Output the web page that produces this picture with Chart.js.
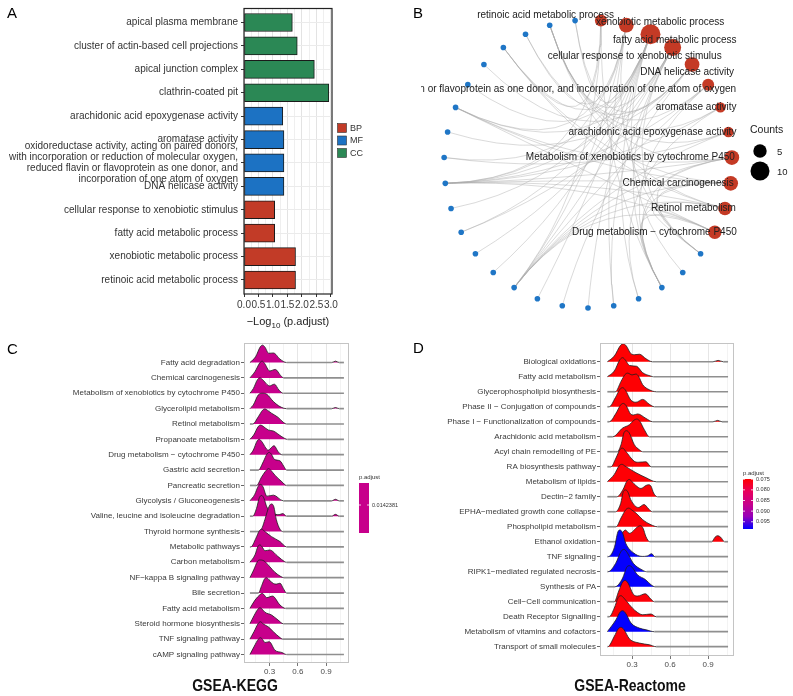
<!DOCTYPE html>
<html>
<head>
<meta charset="utf-8">
<script src="https://cdn.jsdelivr.net/npm/chart.js@4.4.0/dist/chart.umd.min.js"></script>
<style>
body{margin:0;background:#fff;}
#wrap{position:relative;width:793px;height:696px;overflow:hidden;background:#fff;font-family:"Liberation Sans",Arial,sans-serif;}
canvas{position:absolute;}
.lab{position:absolute;font-size:15px;line-height:15px;color:#000;}
.ttl{position:absolute;width:300px;text-align:center;font-weight:bold;font-size:16.5px;line-height:17px;color:#111;transform:scaleX(0.85);}
.xt{position:absolute;width:200px;text-align:center;font-size:11px;line-height:11px;color:#222;white-space:nowrap;}
.xt span{font-size:8px;position:relative;top:3px;}
</style>
</head>
<body>
<div id="wrap">
<canvas id="cA" width="400" height="335" style="left:0;top:0"></canvas>
<canvas id="cB" width="393" height="335" style="left:400px;top:0"></canvas>
<canvas id="cC" width="400" height="361" style="left:0;top:335px"></canvas>
<canvas id="cD" width="393" height="361" style="left:400px;top:335px"></canvas>
<div class="lab" style="left:7px;top:5px">A</div>
<div class="lab" style="left:413px;top:5px">B</div>
<div class="lab" style="left:7px;top:341px">C</div>
<div class="lab" style="left:413px;top:340px">D</div>
<div class="xt" style="left:188px;top:316px">&minus;Log<span>10</span> (p.adjust)</div>
<div class="ttl" style="left:85px;top:677px">GSEA-KEGG</div>
<div class="ttl" style="left:480px;top:677px">GSEA-Reactome</div>
</div>
<script>
// ---------- A: GO enrichment bars
const goTerms = [
  'apical plasma membrane',
  'cluster of actin-based cell projections',
  'apical junction complex',
  'clathrin-coated pit',
  'arachidonic acid epoxygenase activity',
  'aromatase activity',
  ['oxidoreductase activity, acting on paired donors,',
   'with incorporation or reduction of molecular oxygen,',
   'reduced flavin or flavoprotein as one donor, and',
   'incorporation of one atom of oxygen'],
  'DNA helicase activity',
  'cellular response to xenobiotic stimulus',
  'fatty acid metabolic process',
  'xenobiotic metabolic process',
  'retinoic acid metabolic process'
];
const goOntology = ['CC','CC','CC','CC','MF','MF','MF','MF','BP','BP','BP','BP'];
const goLogP = [1.67, 1.84, 2.43, 2.93, 1.34, 1.38, 1.38, 1.38, 1.06, 1.06, 1.78, 1.78];
const goGrid = [0, 0.25, 0.5, 0.75, 1, 1.25, 1.5, 1.75, 2, 2.25, 2.5, 2.75, 3];
const ontLegend = ['BP', 'MF', 'CC'];

// ---------- B: term-gene network
const netTerms = [
  'retinoic acid metabolic process',
  'xenobiotic metabolic process',
  'fatty acid metabolic process',
  'cellular response to xenobiotic stimulus',
  'DNA helicase activity',
  'oxidoreductase activity, acting on paired donors, with incorporation or reduction of molecular oxygen, reduced flavin or flavoprotein as one donor, and incorporation of one atom of oxygen',
  'aromatase activity',
  'arachidonic acid epoxygenase activity',
  'Metabolism of xenobiotics by cytochrome P450',
  'Chemical carcinogenesis',
  'Retinol metabolism',
  'Drug metabolism \u2212 cytochrome P450'
];
const netCounts = [4, 6, 11, 8, 6, 4, 3, 3, 6, 6, 5, 5];
const netGeneCount = 23;
const netLinks = [
  [2, 8, 13, 19],
  [0, 4, 8, 13, 16, 20],
  [1, 3, 5, 7, 9, 11, 12, 14, 17, 19, 22],
  [0, 2, 4, 8, 10, 13, 16, 21],
  [6, 11, 15, 18, 20, 22],
  [2, 8, 13, 21],
  [3, 13, 21],
  [8, 14, 21],
  [0, 2, 8, 13, 16, 21],
  [0, 2, 8, 13, 16, 19],
  [2, 8, 13, 19, 21],
  [0, 2, 8, 13, 16]
];
const countLegend = [5, 10];

// ---------- C: GSEA KEGG ridges  ([x, density] pairs, top row first)
const keggTerms = [
  'Fatty acid degradation','Chemical carcinogenesis','Metabolism of xenobiotics by cytochrome P450',
  'Glycerolipid metabolism','Retinol metabolism','Propanoate metabolism',
  'Drug metabolism \u2212 cytochrome P450','Gastric acid secretion','Pancreatic secretion',
  'Glycolysis / Gluconeogenesis','Valine, leucine and isoleucine degradation','Thyroid hormone synthesis',
  'Metabolic pathways','Carbon metabolism','NF\u2212kappa B signaling pathway','Bile secretion',
  'Fatty acid metabolism','Steroid hormone biosynthesis','TNF signaling pathway','cAMP signaling pathway'
];
const keggRidges = [
  [[0.09,0],[0.15,0.37],[0.20,1.02],[0.225,1.13],[0.25,1.0],[0.29,0.6],[0.34,0.62],[0.41,0.22],[0.48,0],[0.96,0],[1.0,0.09],[1.04,0]],
  [[0.09,0],[0.145,0.42],[0.195,0.98],[0.22,1.09],[0.245,0.95],[0.30,0.45],[0.36,0.55],[0.42,0.13],[0.45,0]],
  [[0.09,0],[0.126,0.3],[0.172,0.9],[0.197,1.0],[0.222,0.9],[0.30,0.48],[0.35,0.59],[0.40,0.2],[0.445,0]],
  [[0.09,0],[0.126,0.24],[0.18,0.9],[0.225,1.0],[0.27,0.93],[0.34,0.46],[0.41,0.13],[0.48,0],[0.96,0],[1.0,0.07],[1.04,0]],
  [[0.12,0],[0.18,0.48],[0.225,0.9],[0.25,0.98],[0.275,0.9],[0.32,0.7],[0.39,0.43],[0.445,0.11],[0.48,0]],
  [[0.09,0],[0.13,0.28],[0.18,0.85],[0.204,0.93],[0.23,0.85],[0.285,0.61],[0.34,0.54],[0.43,0.17],[0.49,0]],
  [[0.09,0],[0.126,0.3],[0.167,0.9],[0.19,1.0],[0.213,0.88],[0.285,0.3],[0.346,0.59],[0.39,0.2],[0.43,0]],
  [[0.18,0],[0.232,0.54],[0.272,1.05],[0.296,1.15],[0.32,1.02],[0.35,0.7],[0.41,0.6],[0.45,0.25],[0.48,0]],
  [[0.16,0],[0.215,0.56],[0.266,1.0],[0.29,1.1],[0.314,0.98],[0.356,0.67],[0.43,0.24],[0.48,0]],
  [[0.09,0],[0.14,0.4],[0.18,0.97],[0.205,1.07],[0.23,0.9],[0.27,0.3],[0.34,0.37],[0.445,0],[0.96,0],[1.0,0.1],[1.04,0]],
  [[0.12,0],[0.16,0.5],[0.19,1.2],[0.215,1.35],[0.24,1.15],[0.27,0.6],[0.33,0.2],[0.40,0.1],[0.44,0.17],[0.48,0],[0.96,0],[1.0,0.12],[1.04,0]],
  [[0.19,0],[0.22,0.25],[0.25,0.8],[0.295,1.65],[0.32,1.8],[0.345,1.6],[0.37,0.8],[0.41,0.15],[0.44,0]],
  [[0.10,0],[0.154,0.57],[0.19,1.05],[0.215,1.15],[0.24,1.05],[0.27,0.9],[0.32,0.67],[0.41,0.35],[0.48,0]],
  [[0.09,0],[0.144,0.48],[0.175,1.03],[0.197,1.13],[0.22,1.0],[0.25,0.75],[0.30,0.8],[0.39,0.37],[0.46,0.04],[0.48,0]],
  [[0.09,0],[0.13,0.5],[0.17,1.05],[0.19,1.15],[0.24,1.09],[0.30,0.72],[0.356,0.35],[0.42,0.07],[0.45,0]],
  [[0.18,0],[0.215,0.48],[0.245,0.92],[0.268,1.0],[0.29,0.88],[0.34,0.62],[0.37,0.58],[0.41,0.64],[0.445,0.3],[0.48,0]],
  [[0.09,0],[0.144,0.54],[0.198,0.9],[0.222,0.98],[0.245,0.85],[0.268,0.7],[0.33,0.8],[0.41,0.22],[0.47,0]],
  [[0.09,0],[0.133,0.52],[0.175,0.95],[0.197,1.04],[0.22,0.95],[0.25,0.75],[0.32,0.57],[0.39,0.24],[0.445,0]],
  [[0.09,0],[0.133,0.48],[0.18,1.03],[0.204,1.13],[0.228,1.0],[0.285,0.8],[0.34,0.48],[0.40,0.15],[0.44,0]],
  [[0.09,0],[0.133,0.5],[0.18,1.0],[0.204,1.09],[0.228,0.95],[0.25,0.78],[0.296,0.83],[0.356,0.28],[0.43,0.13],[0.48,0]]
];
const keggPadj = 0.0142381;

// ---------- D: GSEA Reactome ridges
const reactomeTerms = [
  'Biological oxidations','Fatty acid metabolism','Glycerophospholipid biosynthesis',
  'Phase II \u2212 Conjugation of compounds','Phase I \u2212 Functionalization of compounds',
  'Arachidonic acid metabolism','Acyl chain remodelling of PE','RA biosynthesis pathway',
  'Metabolism of lipids','Dectin\u22122 family','EPHA\u2212mediated growth cone collapse',
  'Phospholipid metabolism','Ethanol oxidation','TNF signaling','RIPK1\u2212mediated regulated necrosis',
  'Synthesis of PA','Cell\u2212Cell communication','Death Receptor Signalling',
  'Metabolism of vitamins and cofactors','Transport of small molecules'
];
const reactomeRidges = [
  [[0.105,0],[0.16,0.38],[0.21,1.1],[0.232,1.2],[0.255,1.05],[0.29,0.55],[0.32,0.47],[0.358,0.5],[0.41,0.2],[0.46,0],[0.94,0],[0.98,0.09],[1.02,0]],
  [[0.105,0],[0.16,0.38],[0.205,1.15],[0.226,1.27],[0.248,1.1],[0.28,0.75],[0.335,0.7],[0.384,0.27],[0.45,0.04],[0.47,0]],
  [[0.168,0],[0.213,0.69],[0.245,1.15],[0.266,1.24],[0.30,1.12],[0.331,1.18],[0.35,1.05],[0.384,0.47],[0.437,0.13],[0.49,0]],
  [[0.12,0],[0.168,0.6],[0.205,1.17],[0.226,1.27],[0.248,1.1],[0.29,0.45],[0.331,0.3],[0.384,0.49],[0.437,0.16],[0.476,0]],
  [[0.12,0],[0.173,0.56],[0.21,1.12],[0.232,1.22],[0.255,1.05],[0.29,0.5],[0.31,0.45],[0.345,0.52],[0.41,0.22],[0.463,0],[0.94,0],[0.976,0.09],[1.01,0]],
  [[0.147,0],[0.226,0.58],[0.279,0.8],[0.315,1.1],[0.337,1.18],[0.36,1.05],[0.397,0.47],[0.437,0]],
  [[0.184,0],[0.213,0.47],[0.238,1.3],[0.258,1.4],[0.278,1.25],[0.318,0.47],[0.358,0.13],[0.384,0]],
  [[0.134,0],[0.173,0.58],[0.205,1.15],[0.226,1.24],[0.248,1.05],[0.318,0.36],[0.35,0.3],[0.41,0.33],[0.45,0]],
  [[0.105,0],[0.16,0.49],[0.2,1.08],[0.221,1.16],[0.243,1.05],[0.331,0.6],[0.41,0.27],[0.49,0]],
  [[0.18,0],[0.23,0.5],[0.26,1.05],[0.28,1.15],[0.30,1.0],[0.33,0.75],[0.37,0.55],[0.41,0.75],[0.43,0.8],[0.45,0.7],[0.47,0.25],[0.5,0]],
  [[0.17,0],[0.21,0.55],[0.232,1.35],[0.25,1.45],[0.268,1.3],[0.29,0.8],[0.35,0.28],[0.395,0.48],[0.43,0.2],[0.46,0]],
  [[0.174,0],[0.213,0.58],[0.252,1.15],[0.274,1.24],[0.30,1.1],[0.331,0.91],[0.384,0.47],[0.45,0.13],[0.50,0]],
  [[0.174,0],[0.213,0.44],[0.247,0.78],[0.279,0.56],[0.345,1.0],[0.366,1.07],[0.387,0.9],[0.41,0.33],[0.44,0],[0.93,0],[0.955,0.3],[0.976,0.4],[1.0,0.3],[1.03,0]],
  [[0.11,0],[0.16,0.6],[0.188,1.65],[0.205,1.78],[0.225,1.6],[0.25,0.9],[0.31,0.27],[0.38,0.02],[0.42,0.05],[0.455,0.2],[0.48,0]],
  [[0.11,0],[0.17,0.55],[0.215,1.38],[0.237,1.49],[0.26,1.3],[0.31,0.56],[0.38,0.12],[0.416,0]],
  [[0.166,0],[0.226,0.58],[0.258,1.3],[0.28,1.4],[0.30,1.3],[0.342,0.8],[0.405,0.48],[0.45,0.13],[0.48,0]],
  [[0.16,0],[0.195,0.71],[0.226,1.32],[0.247,1.42],[0.268,1.25],[0.31,0.5],[0.345,0.38],[0.405,0.53],[0.45,0.16],[0.476,0]],
  [[0.12,0],[0.16,0.58],[0.192,1.3],[0.213,1.4],[0.235,1.25],[0.279,0.8],[0.331,0.36],[0.384,0.13],[0.45,0.18],[0.49,0]],
  [[0.105,0],[0.173,0.8],[0.205,1.3],[0.226,1.4],[0.248,1.25],[0.292,0.58],[0.358,0.24],[0.41,0.13],[0.476,0]],
  [[0.108,0],[0.16,0.69],[0.192,1.2],[0.213,1.29],[0.235,1.15],[0.279,0.53],[0.358,0.24],[0.437,0.13],[0.49,0]]
];
const reactomePadj = [0.0750,0.0750,0.0751,0.0751,0.0751,0.0752,0.0752,0.0752,0.0752,0.0753,
                      0.0753,0.0753,0.0754,0.0982,0.0982,0.0983,0.0754,0.0754,0.0983,0.0755];
const reactomeLegendTicks = [0.075, 0.080, 0.085, 0.090, 0.095];
const ridgeGrid = [0.15, 0.3, 0.45, 0.6, 0.75, 0.9, 1.05];
const ridgeMajor = [0.3, 0.6, 0.9];

// ---------- shared
const FONT = '"Liberation Sans", Arial, sans-serif';
Chart.defaults.font.family = FONT;
const ontColor = {BP: '#C23B27', MF: '#1C72C3', CC: '#2B8855'};
const padjStops = [[255,0,0],[232,0,92],[199,0,139],[150,0,185],[0,0,255]];
function padjColor(t){
  t = Math.max(0, Math.min(1, t));
  const f = t * (padjStops.length - 1), i = Math.min(padjStops.length - 2, Math.floor(f)), r = f - i;
  const a = padjStops[i], b = padjStops[i + 1];
  return 'rgb(' + a.map((v, k) => Math.round(v + (b[k] - v) * r)).join(',') + ')';
}
const isMult = (v, s) => Math.abs(v / s - Math.round(v / s)) < 1e-6;

// ================= A
const frameA = {
  id: 'frameA',
  afterDatasetsDraw(chart){
    const {ctx, chartArea: a} = chart;
    ctx.save();
    ctx.strokeStyle = '#222'; ctx.lineWidth = 1.2;
    ctx.strokeRect(a.left, a.top, a.right - a.left, a.bottom - a.top);
    ctx.restore();
  },
  afterDraw(chart){
    const ctx = chart.ctx;
    ctx.save();
    ctx.font = '9px ' + FONT; ctx.textBaseline = 'middle';
    ontLegend.forEach((o, i) => {
      const y = 123.5 + i * 12.5;
      ctx.fillStyle = ontColor[o]; ctx.fillRect(337.5, y, 9, 9);
      ctx.strokeStyle = '#333'; ctx.lineWidth = 0.6; ctx.strokeRect(337.5, y, 9, 9);
      ctx.fillStyle = '#333'; ctx.fillText(o, 350, y + 4.8);
    });
    ctx.restore();
  }
};
new Chart(document.getElementById('cA'), {
  type: 'bar',
  data: {datasets: [{
    data: goLogP.map((v, i) => ({x: v, y: i + 1})),
    backgroundColor: goOntology.map(o => ontColor[o]),
    borderColor: '#1a1a1a', borderWidth: 1, borderSkipped: false, barThickness: 18
  }]},
  options: {
    indexAxis: 'y', responsive: false, animation: false,
    layout: {autoPadding: false, padding: {left: 0, right: 68, top: 6, bottom: 17}},
    plugins: {legend: {display: false}, tooltip: {enabled: false}},
    scales: {
      x: {
        type: 'linear', min: 0, max: 3.04,
        afterBuildTicks: s => { s.ticks = goGrid.map(v => ({value: v})); },
        afterFit: s => { s.height = 24; },
        border: {display: false},
        grid: {color: c => isMult(c.tick.value, 0.5) ? '#E3E3E3' : '#EFEFEF',
               tickColor: c => isMult(c.tick.value, 0.5) ? '#333' : 'rgba(0,0,0,0)', tickLength: 3},
        ticks: {autoSkip: false, maxRotation: 0, padding: 2, color: '#3a3a3a', font: {size: 10},
                callback: v => isMult(v, 0.5) ? v.toFixed(1) : ''}
      },
      y: {
        type: 'linear', reverse: true, min: 0.4, max: 12.6, offset: false,
        afterBuildTicks: s => { s.ticks = goTerms.map((t, i) => ({value: i + 1})); },
        afterFit: s => { s.width = 244; },
        border: {display: false},
        grid: {color: '#EBEBEB', offset: false, tickColor: '#333', tickLength: 3},
        ticks: {autoSkip: false, padding: 3, color: '#333', font: {size: 10, lineHeight: 1.1},
                callback: v => goTerms[v - 1]}
      }
    }
  },
  plugins: [frameA]
});

// ================= B
const nNodes = netTerms.length + netGeneCount;
function circlePos(p){
  const a = Math.PI / 2 - 2 * Math.PI * (p + 0.5) / nNodes;
  return {x: Math.cos(a), y: Math.sin(a)};
}
const termPos = netTerms.map((t, i) => circlePos(i));
const genePos = Array.from({length: netGeneCount}, (_, g) => circlePos(netTerms.length + g));
const labelNudgeB = [[13,-5],[98,-3],[86,6],[49,9],[42,8],[28,5],[16,0],[8,0],[3,0],[3,0],[11,0],[22,0]];
const bundleCtrl = {x: 0.08, y: -0.1};   // edges bend through the middle of the circle

const edgeSets = [];
netLinks.forEach((genes, t) => genes.forEach(g => {
  const a = genePos[g], b = termPos[t], pts = [];
  for (let s = 0; s <= 12; s++) {
    const u = s / 12, w0 = (1 - u) * (1 - u), w1 = 2 * u * (1 - u), w2 = u * u;
    pts.push({x: w0 * a.x + w1 * bundleCtrl.x + w2 * b.x, y: w0 * a.y + w1 * bundleCtrl.y + w2 * b.y});
  }
  edgeSets.push({type: 'line', data: pts, borderColor: 'rgba(170,170,170,0.55)', borderWidth: 0.8,
                 pointRadius: 0, tension: 0, fill: false, order: 2});
}));

const netLabels = {
  id: 'netLabels',
  afterDatasetsDraw(chart){
    const {ctx, scales: {x, y}} = chart;
    ctx.save();
    ctx.beginPath(); ctx.rect(21, 0, chart.width - 21, chart.height); ctx.clip();
    ctx.font = '10px ' + FONT; ctx.fillStyle = '#222';
    ctx.textAlign = 'right'; ctx.textBaseline = 'middle';
    netTerms.forEach((t, i) => {
      ctx.fillText(t, x.getPixelForValue(termPos[i].x) + labelNudgeB[i][0],
                      y.getPixelForValue(termPos[i].y) + labelNudgeB[i][1]);
    });
    ctx.restore();
    ctx.save();
    ctx.font = '10.5px ' + FONT; ctx.fillStyle = '#222'; ctx.textBaseline = 'middle';
    ctx.fillText('Counts', 350, 130);
    countLegend.forEach((c, i) => {
      const cy = 151 + i * 20;
      ctx.beginPath(); ctx.arc(360, cy, 3 * Math.sqrt(c), 0, Math.PI * 2); ctx.fillStyle = '#000'; ctx.fill();
      ctx.fillStyle = '#222'; ctx.font = '9.5px ' + FONT; ctx.fillText(String(c), 377, cy + 1);
    });
    ctx.restore();
  }
};
new Chart(document.getElementById('cB'), {
  type: 'bubble',
  data: {datasets: [
    {data: termPos.map((p, i) => ({x: p.x, y: p.y, r: 3 * Math.sqrt(netCounts[i])})),
     backgroundColor: '#C43A25', borderWidth: 0, order: 0},
    {data: genePos.map(p => ({x: p.x, y: p.y, r: 2.8})),
     backgroundColor: '#1F76C6', borderWidth: 0, order: 1},
    ...edgeSets
  ]},
  options: {
    responsive: false, animation: false,
    layout: {autoPadding: false, padding: 0},
    plugins: {legend: {display: false}, tooltip: {enabled: false}},
    scales: {
      x: {type: 'linear', display: false, min: -188 / 144, max: 205 / 144},
      y: {type: 'linear', display: false, min: -171 / 144, max: 164 / 144}
    }
  },
  plugins: [netLabels]
});

// ================= C & D ridges
function ridgeDatasets(ridges, colors, xmin, xmax){
  const n = ridges.length, out = [];
  for (let k = n - 1; k >= 0; k--) {          // bottom row first so it is drawn on top
    const base = n - k;
    const pts = ridges[k].slice();
    if (pts[0][0] > xmin + 1e-6) pts.unshift([xmin, 0]);
    if (pts[pts.length - 1][0] < xmax - 1e-6) pts.push([xmax, 0]);
    const hs = pts.map(p => p[1]);
    const flat = c => hs[c.p0DataIndex] === 0 && hs[c.p1DataIndex] === 0;
    out.push({
      data: pts.map(p => ({x: p[0], y: base + p[1]})),
      fill: {value: base}, backgroundColor: colors[k],
      borderColor: '#1e1e1e', borderWidth: 0.8,
      segment: {borderColor: c => flat(c) ? '#8f8f8f' : undefined,
                borderWidth: c => flat(c) ? 1.7 : undefined},
      pointRadius: 0, cubicInterpolationMode: 'monotone'
    });
  }
  return out;
}
function ridgeChart(id, terms, ridges, colors, o, legendPlugin){
  const frame = {
    id: 'frame' + id,
    afterDatasetsDraw(chart){
      const {ctx, chartArea: a} = chart;
      ctx.save(); ctx.strokeStyle = '#C4C4C4'; ctx.lineWidth = 1;
      ctx.strokeRect(a.left + 0.5, a.top + 0.5, a.right - a.left - 1, a.bottom - a.top - 1);
      ctx.restore();
    }
  };
  const isMajor = v => ridgeMajor.some(m => Math.abs(m - v) < 1e-6);
  return new Chart(document.getElementById(id), {
    type: 'line',
    data: {datasets: ridgeDatasets(ridges, colors, o.bx0, o.bx1)},
    options: {
      responsive: false, animation: false,
      layout: {autoPadding: false, padding: {left: 0, right: o.padRight, top: 8, bottom: 0}},
      plugins: {legend: {display: false}, tooltip: {enabled: false}},
      scales: {
        x: {
          type: 'linear', min: o.xmin, max: o.xmax,
          afterBuildTicks: s => { s.ticks = ridgeGrid.map(v => ({value: v})); },
          afterFit: s => { s.height = o.xh; },
          border: {display: false},
          grid: {color: c => isMajor(c.tick.value) ? '#E6E6E6' : '#F3F3F3',
                 tickColor: c => isMajor(c.tick.value) ? '#777' : 'rgba(0,0,0,0)', tickLength: 3},
          ticks: {autoSkip: false, maxRotation: 0, padding: 1, color: '#4a4a4a', font: {size: 8},
                  callback: v => isMajor(v) ? v.toFixed(1) : ''}
        },
        y: {
          type: 'linear', min: o.ymin, max: o.ymax,
          afterBuildTicks: s => { s.ticks = terms.map((t, i) => ({value: i + 1})); },
          afterFit: s => { s.width = o.yw; },
          border: {display: false},
          grid: {drawOnChartArea: false, tickColor: '#666', tickLength: 3},
          ticks: {autoSkip: false, padding: 1, color: '#3a3a3a', font: {size: 8},
                  callback: v => terms[terms.length - v]}
        }
      }
    },
    plugins: [frame, legendPlugin]
  });
}

const keggColor = padjColor(0.5);
const keggLegend = {
  id: 'keggLegend',
  afterDraw(chart){
    const ctx = chart.ctx;
    ctx.save();
    ctx.fillStyle = '#333'; ctx.font = '6px ' + FONT; ctx.textBaseline = 'middle';
    ctx.fillText('p.adjust', 359, 142);
    ctx.fillStyle = keggColor; ctx.fillRect(359, 148, 10, 50);
    ctx.strokeStyle = '#fff'; ctx.lineWidth = 0.8;
    ctx.beginPath(); ctx.moveTo(359, 170); ctx.lineTo(361, 170); ctx.moveTo(367, 170); ctx.lineTo(369, 170); ctx.stroke();
    ctx.fillStyle = '#333'; ctx.font = '5.5px ' + FONT;
    ctx.fillText(keggPadj.toString(), 372, 170);
    ctx.restore();
  }
};
ridgeChart('cC', keggTerms, keggRidges, keggTerms.map(() => keggColor),
  {xmin: 0.027, xmax: 1.144, bx0: 0.09, bx1: 1.09, ymin: 0.447, ymax: 21.27, yw: 244, padRight: 51, xh: 33},
  keggLegend);

const pLo = 0.0749, pHi = 0.0984;
const reactomeColors = reactomePadj.map(p => padjColor((p - pLo) / (pHi - pLo)));
const reactomeLegend = {
  id: 'reactomeLegend',
  afterDraw(chart){
    const ctx = chart.ctx, x0 = 343, y0 = 144, h = 50;
    ctx.save();
    ctx.fillStyle = '#333'; ctx.font = '6px ' + FONT; ctx.textBaseline = 'middle';
    ctx.fillText('p.adjust', x0, 138);
    const g = ctx.createLinearGradient(0, y0, 0, y0 + h);
    padjStops.forEach((c, i) => g.addColorStop(i / (padjStops.length - 1), 'rgb(' + c.join(',') + ')'));
    ctx.fillStyle = g; ctx.fillRect(x0, y0, 10, h);
    ctx.font = '5.5px ' + FONT; ctx.strokeStyle = '#fff'; ctx.lineWidth = 0.8;
    reactomeLegendTicks.forEach(v => {
      const y = y0 + (v - pLo) / (pHi - pLo) * h;
      ctx.beginPath(); ctx.moveTo(x0, y); ctx.lineTo(x0 + 2, y); ctx.moveTo(x0 + 8, y); ctx.lineTo(x0 + 10, y); ctx.stroke();
      ctx.fillStyle = '#333'; ctx.fillText(v.toFixed(3), x0 + 13, y);
    });
    ctx.restore();
  }
};
ridgeChart('cD', reactomeTerms, reactomeRidges, reactomeColors,
  {xmin: 0.047, xmax: 1.105, bx0: 0.105, bx1: 1.058, ymin: 0.38, ymax: 21.25, yw: 200, padRight: 59, xh: 40},
  reactomeLegend);
</script>
</body>
</html>
